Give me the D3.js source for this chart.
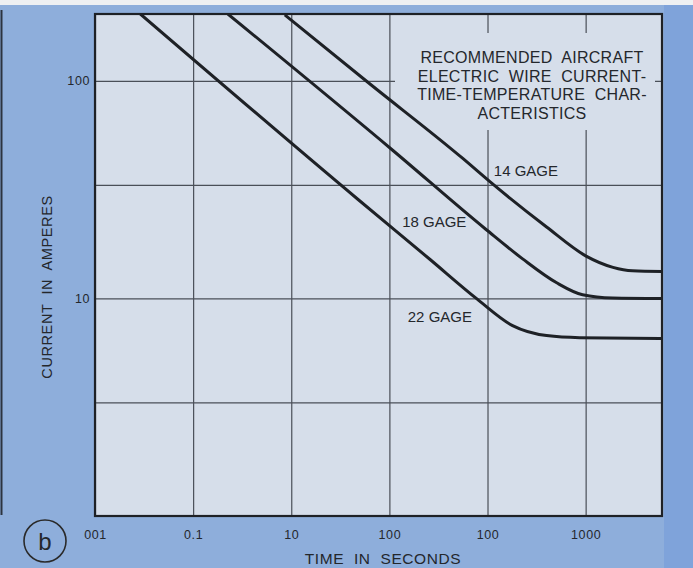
<!DOCTYPE html>
<html>
<head>
<meta charset="utf-8">
<script src="https://cdn.jsdelivr.net/npm/d3@7"></script>
<style>
  body { margin: 0; background: #eef0f2; }
  text { font-family: "Liberation Sans", Arial, sans-serif; fill: #24272c; }
</style>
</head>
<body>
<svg id="chart" width="693" height="568"></svg>
<script>
// time axis (seconds)
const times = [0.01, 0.1, 1, 10, 100, 1000];
const timeLabels = ['001', '0.1', '10', '100', '100', '1000'];
// current axis (amperes)
const currentGrid = [100, 33.3, 10, 3.33];
const currentTicks = [100, 10];
const currentLabels = ['100', '10'];

// curves: [seconds, amperes]
const gage14 = [[0.86, 201], [6.3, 97], [56, 44], [105, 34.5], [400, 21.3], [1000, 15.7], [1900, 13.9], [3000, 13.4], [6000, 13.3]];
const gage18 = [[0.226, 203], [10.8, 48], [96, 20.8], [228, 15.2], [507, 11.8], [931, 10.4], [1884, 10.05], [6000, 10]];
const gage22 = [[0.029, 203], [4.8, 28.5], [26, 15.1], [78, 9.95], [180, 7.5], [400, 6.75], [870, 6.6], [6000, 6.55]];
const gageNames = ['14 GAGE', '18 GAGE', '22 GAGE'];
const gageLabelAt = [[116, 36.5], [13.5, 21.4], [15.4, 7.8]];
const titleLines = ['RECOMMENDED  AIRCRAFT', 'ELECTRIC  WIRE  CURRENT-', 'TIME-TEMPERATURE  CHAR-', 'ACTERISTICS'];

const margin = { top: 14, right: 31, bottom: 52, left: 95 };
const W = 693, H = 568;
const width = W - margin.left - margin.right;
const height = H - margin.top - margin.bottom;

const svg = d3.select('#chart');

// page background
svg.append('rect').attr('width', W).attr('height', H).attr('fill', '#eef0f2');
svg.append('rect').attr('y', 5).attr('width', W).attr('height', H - 5).attr('fill', '#8eaedb');
svg.append('rect').attr('x', 664).attr('y', 5).attr('width', 29).attr('height', H - 5).attr('fill', '#7fa3da');
// edge of neighbouring figure
svg.append('line').attr('x1', 1.5).attr('x2', 1.5).attr('y1', 10).attr('y2', 515)
    .attr('stroke', '#2c3440').attr('stroke-width', 2);

const g = svg.append('g')
    .attr('transform', `translate(${margin.left}, ${margin.top})`);

const xScale = d3.scaleLog().domain([0.01, 6000]).range([0, width]);
const yScale = d3.scaleLog().domain([1, 203]).range([height, 0]);

g.append('rect').attr('width', width).attr('height', height).attr('fill', '#d6deea');

// grid
g.append('g')
    .attr('class', 'xGrid')
    .attr('transform', `translate(0,${height})`)
    .call(d3.axisBottom(xScale).tickValues(times).tickSize(-height).tickFormat(''));
g.append('g')
    .attr('class', 'yGrid')
    .call(d3.axisLeft(yScale).tickValues(currentGrid).tickSize(-width).tickFormat(''));
g.selectAll('.xGrid line, .yGrid line').attr('stroke', '#4a4f58').attr('stroke-width', 1.2);
g.selectAll('.xGrid .domain, .yGrid .domain').remove();

// box behind the title hides the grid
g.append('rect')
    .attr('x', 300).attr('y', 19).attr('width', 260).attr('height', 97)
    .attr('fill', '#d6deea');

// tick labels
const xAxis = g.append('g')
    .attr('transform', `translate(0,${height})`)
    .call(d3.axisBottom(xScale).tickValues(times).tickSize(0).tickPadding(14)
        .tickFormat((d, i) => timeLabels[i]));
const yAxis = g.append('g')
    .call(d3.axisLeft(yScale).tickValues(currentTicks).tickSize(0).tickPadding(5)
        .tickFormat((d, i) => currentLabels[i]));
[xAxis, yAxis].forEach(a => {
    a.select('.domain').remove();
    a.selectAll('text').style('font-size', '12.5px').attr('fill', '#3a3f48')
        .style('letter-spacing', '0.6px')
        .style('font-family', '"Liberation Sans", Arial, sans-serif');
});

// curves
const clip = svg.append('clipPath').attr('id', 'plotClip');
clip.append('rect').attr('width', width).attr('height', height);

const line = d3.line()
    .x(d => xScale(d[0]))
    .y(d => yScale(d[1]))
    .curve(d3.curveMonotoneX);

g.append('g').attr('clip-path', 'url(#plotClip)')
    .selectAll('.gage-line')
    .data([gage14, gage18, gage22])
    .enter()
    .append('path')
    .classed('gage-line', true)
    .attr('d', line)
    .attr('fill', 'none')
    .attr('stroke', '#1e2126')
    .attr('stroke-width', 3);

// frame
g.append('rect').attr('width', width).attr('height', height)
    .attr('fill', 'none').attr('stroke', '#1e2126').attr('stroke-width', 2.2);

// curve labels
g.selectAll('.gage-label')
    .data(gageNames)
    .enter()
    .append('text')
    .attr('x', (d, i) => xScale(gageLabelAt[i][0]))
    .attr('y', (d, i) => yScale(gageLabelAt[i][1]))
    .style('font-size', '15px')
    .text(d => d);

// title
g.append('text')
    .attr('x', 437)
    .attr('y', 49)
    .attr('text-anchor', 'middle')
    .style('font-size', '16px')
    .style('letter-spacing', '0.3px')
    .selectAll('tspan')
    .data(titleLines)
    .enter()
    .append('tspan')
    .attr('x', 437)
    .attr('dy', (d, i) => i === 0 ? 0 : 18.5)
    .style('white-space', 'pre')
    .text(d => d);

// axis titles
svg.append('text')
    .attr('x', 383).attr('y', 564)
    .attr('text-anchor', 'middle')
    .style('font-size', '15.5px')
    .style('letter-spacing', '0.6px')
    .style('white-space', 'pre')
    .text('TIME  IN  SECONDS');
svg.append('text')
    .attr('transform', 'translate(52,287) rotate(-90)')
    .attr('text-anchor', 'middle')
    .style('font-size', '14.5px')
    .style('letter-spacing', '0.6px')
    .style('white-space', 'pre')
    .text('CURRENT  IN  AMPERES');

// figure letter
svg.append('circle').attr('cx', 45).attr('cy', 541).attr('r', 21)
    .attr('fill', 'none').attr('stroke', '#2a2a2a').attr('stroke-width', 1.6);
svg.append('text').attr('x', 45).attr('y', 550)
    .attr('text-anchor', 'middle')
    .style('font-size', '24px')
    .text('b');
</script>
</body>
</html>
